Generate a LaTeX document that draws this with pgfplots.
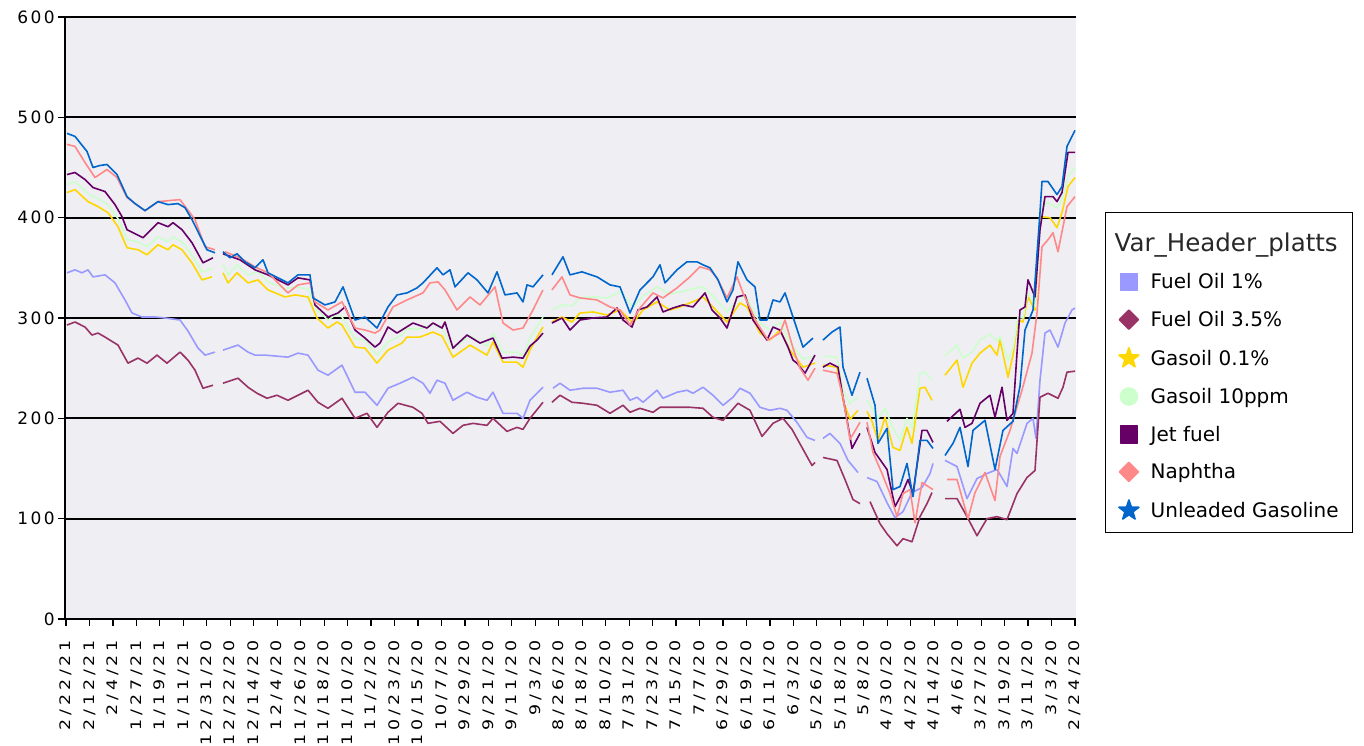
\documentclass[border=0pt]{standalone}
\usepackage{fontspec}
\setmainfont{DejaVu Sans}
\usepackage{graphicx}
\usepackage{pgfplots}
\pgfplotsset{compat=1.18}
\usepackage{pgfplotstable}
\definecolor{bgc}{RGB}{238,238,243}
\definecolor{fo1}{RGB}{153,153,255}
\definecolor{fo35}{RGB}{153,51,102}
\definecolor{gas01}{RGB}{255,215,0}
\definecolor{gas10}{RGB}{204,255,204}
\definecolor{jet}{RGB}{102,0,102}
\definecolor{nap}{RGB}{255,136,136}
\definecolor{ulg}{RGB}{0,102,204}
\makeatletter
\def\spx#1{\@tfor\c@@:=#1\do{\c@@\kern3.2bp}\unkern}
\def\spy#1{\@tfor\c@@:=#1\do{\c@@\kern2.5bp}\unkern}
\makeatother
\newcommand{\xl}[1]{\scalebox{1.2}[1]{\fontsize{14.5bp}{17bp}\selectfont\spx{#1}}}
\newcommand{\yl}[1]{\spy{#1}}
\newcommand{\es}{\rule[-4bp]{0pt}{19bp}}
\newcommand{\lgbox}{\path (-2bp,0) (20bp,0);}
\newcommand{\lgstar}[1]{\lgbox\fill[#1,shift={(9bp,0.5bp)}] (90:10.5bp) -- (126:4.2bp) -- (162:10.5bp) -- (198:4.2bp) -- (234:10.5bp) -- (270:4.2bp) -- (306:10.5bp) -- (342:4.2bp) -- (18:10.5bp) -- (54:4.2bp) -- cycle;}
\newcommand{\lgdiam}[1]{\lgbox\fill[#1] (9bp,9.5bp) -- (18.5bp,0) -- (9bp,-9.5bp) -- (-0.5bp,0) -- cycle;}
\newcommand{\lgsq}[1]{\lgbox\fill[#1] (0.5bp,-8.5bp) rectangle (17.5bp,8.5bp);}
\newcommand{\lgcirc}[1]{\lgbox\fill[#1] (9bp,0) circle (8.5bp);}

% x = horizontal position along the date axis (2/22/21 at 66 ... 2/24/20 at 1075)
\pgfplotstableread[row sep=\\]{x y\\
67 345\\ 75 348\\ 82 345\\ 88 348\\ 93 341\\ 105 343\\ 115 335\\ 125 318\\ 132 305\\ 142 301\\ 155 301\\ 165 300\\ 180 298\\ 188 287\\ 198 270\\ 205 263\\ 215 266\\ 219 nan\\
223 268\\ 238 273\\ 248 266\\ 255 263\\ 265 263\\ 288 261\\ 298 265\\ 308 263\\ 318 248\\ 328 243\\ 342 253\\ 355 226\\ 365 226\\ 377 213\\ 388 230\\ 400 235\\ 413 241\\ 423 235\\ 430 225\\ 437 238\\ 445 235\\ 453 218\\ 467 226\\ 477 221\\ 487 218\\ 493 226\\ 503 205\\ 517 205\\ 523 200\\ 530 218\\ 540 228\\ 543 231\\ 548 nan\\
553 230\\ 560 235\\ 570 228\\ 583 230\\ 597 230\\ 610 226\\ 623 228\\ 630 218\\ 637 221\\ 643 216\\ 657 228\\ 663 220\\ 677 226\\ 687 228\\ 693 225\\ 703 231\\ 713 223\\ 723 213\\ 733 221\\ 740 230\\ 750 225\\ 760 211\\ 770 208\\ 780 210\\ 787 208\\ 797 196\\ 807 181\\ 815 178\\ 819 nan\\
823 180\\ 830 185\\ 840 175\\ 848 158\\ 858 146\\ 863 nan\\ 867 141\\ 877 137\\ 887 116\\ 895 101\\ 903 107\\ 912 126\\ 922 131\\ 930 145\\ 933 155\\ 939 nan\\
945 158\\ 957 152\\ 967 120\\ 977 140\\ 987 145\\ 997 149\\ 1003 139\\ 1007 132\\ 1013 170\\ 1017 165\\ 1027 195\\ 1033 200\\ 1036 180\\ 1040 238\\ 1045 285\\ 1050 288\\ 1058 271\\ 1065 295\\ 1072 308\\ 1075 310\\
}\tfoa

\pgfplotstableread[row sep=\\]{x y\\
67 293\\ 75 296\\ 85 291\\ 92 283\\ 98 285\\ 105 281\\ 118 273\\ 128 255\\ 138 260\\ 147 255\\ 157 263\\ 167 255\\ 180 266\\ 188 258\\ 195 248\\ 203 230\\ 213 233\\ 219 nan\\
223 235\\ 238 240\\ 248 231\\ 257 225\\ 267 220\\ 277 223\\ 288 218\\ 298 223\\ 308 228\\ 318 216\\ 328 210\\ 342 220\\ 355 200\\ 367 205\\ 377 191\\ 388 206\\ 398 215\\ 413 211\\ 422 205\\ 428 195\\ 440 197\\ 453 185\\ 463 193\\ 473 195\\ 487 193\\ 493 200\\ 507 187\\ 517 191\\ 523 189\\ 530 200\\ 543 216\\ 548 nan\\
552 216\\ 560 223\\ 572 216\\ 583 215\\ 597 213\\ 610 205\\ 623 213\\ 630 206\\ 640 210\\ 653 206\\ 660 211\\ 673 211\\ 690 211\\ 703 210\\ 713 201\\ 723 198\\ 730 206\\ 738 215\\ 750 208\\ 762 182\\ 773 195\\ 783 200\\ 792 189\\ 802 171\\ 812 153\\ 815 156\\ 819 nan\\
823 161\\ 837 158\\ 845 139\\ 853 119\\ 860 115\\ 865 nan\\ 870 117\\ 880 95\\ 887 85\\ 897 73\\ 903 80\\ 912 77\\ 920 102\\ 927 115\\ 932 126\\ 939 nan\\
945 120\\ 957 120\\ 967 102\\ 977 83\\ 987 100\\ 997 102\\ 1007 99\\ 1017 125\\ 1027 141\\ 1035 148\\ 1040 221\\ 1048 225\\ 1058 220\\ 1063 231\\ 1067 246\\ 1075 247\\
}\tfob

\pgfplotstableread[row sep=\\]{x y\\
67 425\\ 75 428\\ 88 416\\ 98 411\\ 108 405\\ 118 391\\ 127 370\\ 138 368\\ 147 363\\ 158 373\\ 168 368\\ 173 373\\ 182 368\\ 192 355\\ 202 338\\ 212 341\\ 219 nan\\
223 345\\ 228 335\\ 237 345\\ 248 335\\ 258 338\\ 268 328\\ 285 321\\ 295 323\\ 308 321\\ 317 300\\ 328 290\\ 337 296\\ 342 293\\ 355 271\\ 365 270\\ 377 255\\ 388 268\\ 402 275\\ 407 281\\ 420 281\\ 433 286\\ 442 282\\ 453 261\\ 470 273\\ 487 263\\ 493 276\\ 503 256\\ 517 256\\ 523 251\\ 530 268\\ 540 286\\ 543 291\\ 548 nan\\
552 296\\ 562 301\\ 572 296\\ 580 305\\ 593 306\\ 607 303\\ 620 308\\ 633 295\\ 643 308\\ 657 316\\ 670 308\\ 680 311\\ 697 318\\ 703 321\\ 713 311\\ 727 296\\ 740 315\\ 747 311\\ 760 285\\ 770 278\\ 780 288\\ 790 268\\ 803 251\\ 815 255\\ 819 nan\\
823 253\\ 837 251\\ 843 218\\ 850 199\\ 858 208\\ 863 nan\\ 867 207\\ 872 197\\ 878 178\\ 885 201\\ 893 171\\ 900 168\\ 907 191\\ 912 175\\ 920 230\\ 925 231\\ 932 218\\ 939 nan\\
945 243\\ 957 258\\ 963 231\\ 972 255\\ 980 265\\ 990 273\\ 997 263\\ 1000 278\\ 1008 241\\ 1013 263\\ 1018 298\\ 1023 296\\ 1028 321\\ 1035 308\\ 1040 401\\ 1050 400\\ 1057 390\\ 1062 405\\ 1068 431\\ 1075 440\\
}\tgasa

\pgfplotstableread[row sep=\\]{x y\\
67 433\\ 75 436\\ 88 424\\ 98 419\\ 108 413\\ 118 399\\ 127 378\\ 138 376\\ 147 371\\ 158 381\\ 168 376\\ 173 381\\ 182 376\\ 192 363\\ 202 346\\ 212 349\\ 219 nan\\
223 353\\ 228 343\\ 237 353\\ 248 343\\ 258 346\\ 268 336\\ 285 329\\ 295 331\\ 308 329\\ 317 308\\ 328 298\\ 337 304\\ 342 301\\ 355 279\\ 365 278\\ 377 263\\ 388 276\\ 402 283\\ 407 289\\ 420 289\\ 433 294\\ 442 290\\ 453 270\\ 470 282\\ 487 272\\ 493 285\\ 503 266\\ 517 266\\ 523 262\\ 530 280\\ 540 296\\ 543 301\\ 548 nan\\
552 308\\ 562 313\\ 572 312\\ 580 320\\ 593 321\\ 607 320\\ 620 326\\ 633 311\\ 643 322\\ 657 331\\ 670 324\\ 680 326\\ 697 330\\ 703 331\\ 713 322\\ 727 306\\ 740 322\\ 747 320\\ 760 295\\ 770 288\\ 780 296\\ 790 276\\ 803 259\\ 815 262\\ 819 nan\\
823 262\\ 837 261\\ 843 228\\ 850 215\\ 858 221\\ 863 nan\\ 867 218\\ 872 210\\ 878 200\\ 885 210\\ 893 190\\ 900 178\\ 907 200\\ 912 190\\ 920 245\\ 925 246\\ 932 238\\ 939 nan\\
945 262\\ 957 273\\ 963 260\\ 972 266\\ 980 278\\ 990 284\\ 997 277\\ 1000 282\\ 1008 258\\ 1013 270\\ 1018 301\\ 1023 300\\ 1028 325\\ 1035 311\\ 1040 408\\ 1048 415\\ 1057 410\\ 1062 418\\ 1068 441\\ 1075 450\\
}\tgasb

\pgfplotstableread[row sep=\\]{x y\\
67 443\\ 75 445\\ 85 438\\ 93 430\\ 105 426\\ 115 413\\ 122 401\\ 127 388\\ 143 380\\ 158 395\\ 168 391\\ 173 395\\ 182 388\\ 192 375\\ 203 355\\ 213 360\\ 219 nan\\
223 364\\ 240 358\\ 255 348\\ 268 343\\ 278 338\\ 288 333\\ 298 340\\ 310 338\\ 315 313\\ 328 301\\ 338 305\\ 345 311\\ 355 288\\ 365 280\\ 375 271\\ 380 275\\ 388 291\\ 397 285\\ 413 295\\ 427 290\\ 433 295\\ 442 290\\ 445 296\\ 453 270\\ 467 283\\ 480 275\\ 493 280\\ 502 260\\ 513 261\\ 523 260\\ 530 272\\ 537 278\\ 543 285\\ 548 nan\\
552 295\\ 562 300\\ 570 288\\ 580 298\\ 593 300\\ 607 301\\ 617 310\\ 623 298\\ 632 291\\ 638 308\\ 647 311\\ 657 321\\ 663 306\\ 673 310\\ 683 313\\ 693 311\\ 705 325\\ 712 308\\ 720 300\\ 727 290\\ 737 321\\ 745 323\\ 753 298\\ 767 278\\ 773 291\\ 780 288\\ 788 271\\ 793 258\\ 797 255\\ 805 245\\ 815 263\\ 819 nan\\
823 251\\ 830 255\\ 838 251\\ 843 221\\ 852 170\\ 860 185\\ 863 nan\\ 867 191\\ 875 166\\ 887 149\\ 895 112\\ 902 125\\ 908 139\\ 913 125\\ 922 188\\ 927 188\\ 933 176\\ 939 nan\\
947 197\\ 960 209\\ 965 191\\ 972 195\\ 980 215\\ 990 223\\ 995 201\\ 1002 231\\ 1007 198\\ 1013 205\\ 1017 265\\ 1020 308\\ 1025 311\\ 1028 338\\ 1035 321\\ 1040 388\\ 1045 421\\ 1053 421\\ 1057 416\\ 1062 425\\ 1068 465\\ 1075 465\\
}\tjet

\pgfplotstableread[row sep=\\]{x y\\
67 473\\ 75 471\\ 85 455\\ 95 440\\ 107 448\\ 117 440\\ 127 420\\ 145 407\\ 158 416\\ 180 418\\ 195 398\\ 205 371\\ 215 368\\ 219 nan\\
225 366\\ 240 360\\ 255 351\\ 268 345\\ 278 335\\ 288 325\\ 298 333\\ 310 335\\ 315 316\\ 328 308\\ 342 316\\ 355 290\\ 365 288\\ 375 285\\ 380 288\\ 393 311\\ 407 318\\ 423 325\\ 430 335\\ 438 336\\ 445 328\\ 457 308\\ 470 321\\ 480 313\\ 495 331\\ 503 295\\ 513 288\\ 523 290\\ 533 308\\ 543 328\\ 548 nan\\
552 328\\ 562 341\\ 570 323\\ 580 320\\ 597 318\\ 610 311\\ 620 308\\ 630 293\\ 640 310\\ 653 325\\ 663 320\\ 677 330\\ 690 341\\ 700 351\\ 710 348\\ 717 340\\ 727 320\\ 737 341\\ 743 325\\ 757 295\\ 768 278\\ 780 285\\ 785 298\\ 793 270\\ 800 250\\ 808 238\\ 815 250\\ 819 nan\\
823 248\\ 837 245\\ 843 221\\ 850 179\\ 860 196\\ 863 nan\\ 867 196\\ 873 166\\ 882 145\\ 890 125\\ 897 102\\ 903 125\\ 910 129\\ 915 96\\ 922 136\\ 933 129\\ 939 nan\\
947 139\\ 957 139\\ 968 100\\ 975 126\\ 985 146\\ 995 118\\ 1000 162\\ 1010 188\\ 1022 228\\ 1032 265\\ 1037 305\\ 1042 371\\ 1048 378\\ 1053 385\\ 1058 366\\ 1067 411\\ 1075 421\\
}\tnap

\pgfplotstableread[row sep=\\]{x y\\
67 484\\ 75 481\\ 87 466\\ 93 450\\ 100 452\\ 107 453\\ 117 443\\ 127 421\\ 135 414\\ 145 407\\ 158 416\\ 168 413\\ 178 414\\ 185 410\\ 192 398\\ 202 378\\ 207 368\\ 215 365\\ 219 nan\\
223 366\\ 230 360\\ 237 364\\ 245 356\\ 255 350\\ 263 358\\ 268 345\\ 278 340\\ 288 335\\ 298 343\\ 310 343\\ 313 320\\ 325 313\\ 335 316\\ 343 331\\ 355 298\\ 365 301\\ 377 290\\ 388 311\\ 397 323\\ 407 325\\ 417 330\\ 423 335\\ 437 350\\ 443 343\\ 450 348\\ 455 331\\ 468 345\\ 477 338\\ 488 325\\ 497 346\\ 505 323\\ 517 325\\ 523 316\\ 527 333\\ 533 331\\ 543 343\\ 548 nan\\
552 343\\ 563 361\\ 570 343\\ 582 346\\ 597 341\\ 610 333\\ 620 331\\ 630 305\\ 640 328\\ 653 341\\ 660 353\\ 665 335\\ 677 348\\ 687 356\\ 697 356\\ 703 353\\ 710 350\\ 718 338\\ 727 316\\ 733 328\\ 738 356\\ 747 338\\ 755 331\\ 760 298\\ 767 298\\ 773 318\\ 780 316\\ 785 325\\ 793 301\\ 803 271\\ 813 280\\ 818 nan\\
823 278\\ 832 286\\ 840 291\\ 843 251\\ 852 223\\ 860 246\\ 863 nan\\ 867 240\\ 875 213\\ 878 175\\ 887 190\\ 893 129\\ 900 132\\ 907 155\\ 913 122\\ 920 178\\ 927 178\\ 933 170\\ 939 nan\\
945 163\\ 953 175\\ 960 191\\ 968 152\\ 973 188\\ 985 198\\ 995 149\\ 1003 188\\ 1013 197\\ 1020 232\\ 1025 288\\ 1033 308\\ 1040 405\\ 1042 436\\ 1048 436\\ 1057 423\\ 1062 431\\ 1067 471\\ 1075 487\\
}\tulg

\begin{document}
\begin{tikzpicture}
\useasboundingbox (0,0) rectangle (1364bp,746bp);
\begin{axis}[
  at={(65bp,127bp)}, anchor=south west,
  scale only axis, width=1011bp, height=602bp,
  xmin=65, xmax=1076, ymin=0, ymax=600,
  axis background/.style={fill=bgc},
  axis x line*=bottom, axis y line*=left,
  axis line style={black, line width=1.6bp},
  tick align=outside, major tick length=7bp,
  tick style={black, line width=1.2bp},
  ytick={0,100,200,300,400,500,600},
  yticklabels={\yl{0},\yl{100},\yl{200},\yl{300},\yl{400},\yl{500},\yl{600}},
  ymajorgrids, major grid style={black, line width=2bp},
  yticklabel style={font=\fontsize{17bp}{20bp}\selectfont, anchor=east, inner sep=0pt, xshift=-3bp},
  xtick={66,89.465,112.93,136.395,159.86,183.325,206.79,230.255,253.72,277.185,300.65,324.115,347.58,371.045,394.51,417.975,441.44,464.905,488.37,511.835,535.3,558.765,582.23,605.695,629.16,652.625,676.09,699.555,723.02,746.485,769.95,793.415,816.88,840.345,863.81,887.275,910.74,934.205,957.67,981.135,1004.6,1028.065,1051.53,1075},
  xticklabels={\xl{2/22/21},\xl{2/12/21},\xl{2/4/21},\xl{1/27/21},\xl{1/19/21},\xl{1/11/21},\xl{12/31/20},\xl{12/22/20},\xl{12/14/20},\xl{12/4/20},\xl{11/26/20},\xl{11/18/20},\xl{11/10/20},\xl{11/2/20},\xl{10/23/20},\xl{10/15/20},\xl{10/7/20},\xl{9/29/20},\xl{9/21/20},\xl{9/11/20},\xl{9/3/20},\xl{8/26/20},\xl{8/18/20},\xl{8/10/20},\xl{7/31/20},\xl{7/23/20},\xl{7/15/20},\xl{7/7/20},\xl{6/29/20},\xl{6/19/20},\xl{6/11/20},\xl{6/3/20},\xl{5/26/20},\xl{5/18/20},\xl{5/8/20},\xl{4/30/20},\xl{4/22/20},\xl{4/14/20},\xl{4/6/20},\xl{3/27/20},\xl{3/19/20},\xl{3/11/20},\xl{3/3/20},\xl{2/24/20}},
  xticklabel style={yshift=-14bp, rotate=90, anchor=east, inner sep=0pt},
  unbounded coords=jump,
  every axis plot/.append style={line width=1.6bp, line join=round, mark=none},
  legend style={at={(1.0287,0.676)}, anchor=north west, draw=black, line width=1.2bp, fill=white,
    font=\fontsize{20bp}{23bp}\selectfont, row sep=17bp, column sep=8bp,
    inner xsep=11.5bp, inner ysep=11.5bp,
    nodes={inner sep=2bp}},
  legend cell align=left,
]
\addplot[fo1, forget plot] table {\tfoa};
\addplot[fo35, forget plot] table {\tfob};
\addplot[gas01, forget plot] table {\tgasa};
\addplot[gas10, forget plot] table {\tgasb};
\addplot[jet, forget plot] table {\tjet};
\addplot[nap, forget plot] table {\tnap};
\addplot[ulg, forget plot] table {\tulg};

\addlegendimage{empty legend}
\addlegendentry{\hspace*{-36bp}\rule[-16bp]{0pt}{41bp}\fontsize{24.5bp}{28bp}\selectfont\color[RGB]{40,40,40}Var\_Header\_platts}
\addlegendimage{legend image code/.code={\lgsq{fo1}}}
\addlegendentry{\es Fuel Oil 1\%}
\addlegendimage{legend image code/.code={\lgdiam{fo35}}}
\addlegendentry{\es Fuel Oil 3.5\%}
\addlegendimage{legend image code/.code={\lgstar{gas01}}}
\addlegendentry{\es Gasoil 0.1\%}
\addlegendimage{legend image code/.code={\lgcirc{gas10}}}
\addlegendentry{\es Gasoil 10ppm}
\addlegendimage{legend image code/.code={\lgsq{jet}}}
\addlegendentry{\es Jet fuel}
\addlegendimage{legend image code/.code={\lgdiam{nap}}}
\addlegendentry{\es Naphtha}
\addlegendimage{legend image code/.code={\lgstar{ulg}}}
\addlegendentry{\es Unleaded Gasoline}
\end{axis}
\end{tikzpicture}
\end{document}
